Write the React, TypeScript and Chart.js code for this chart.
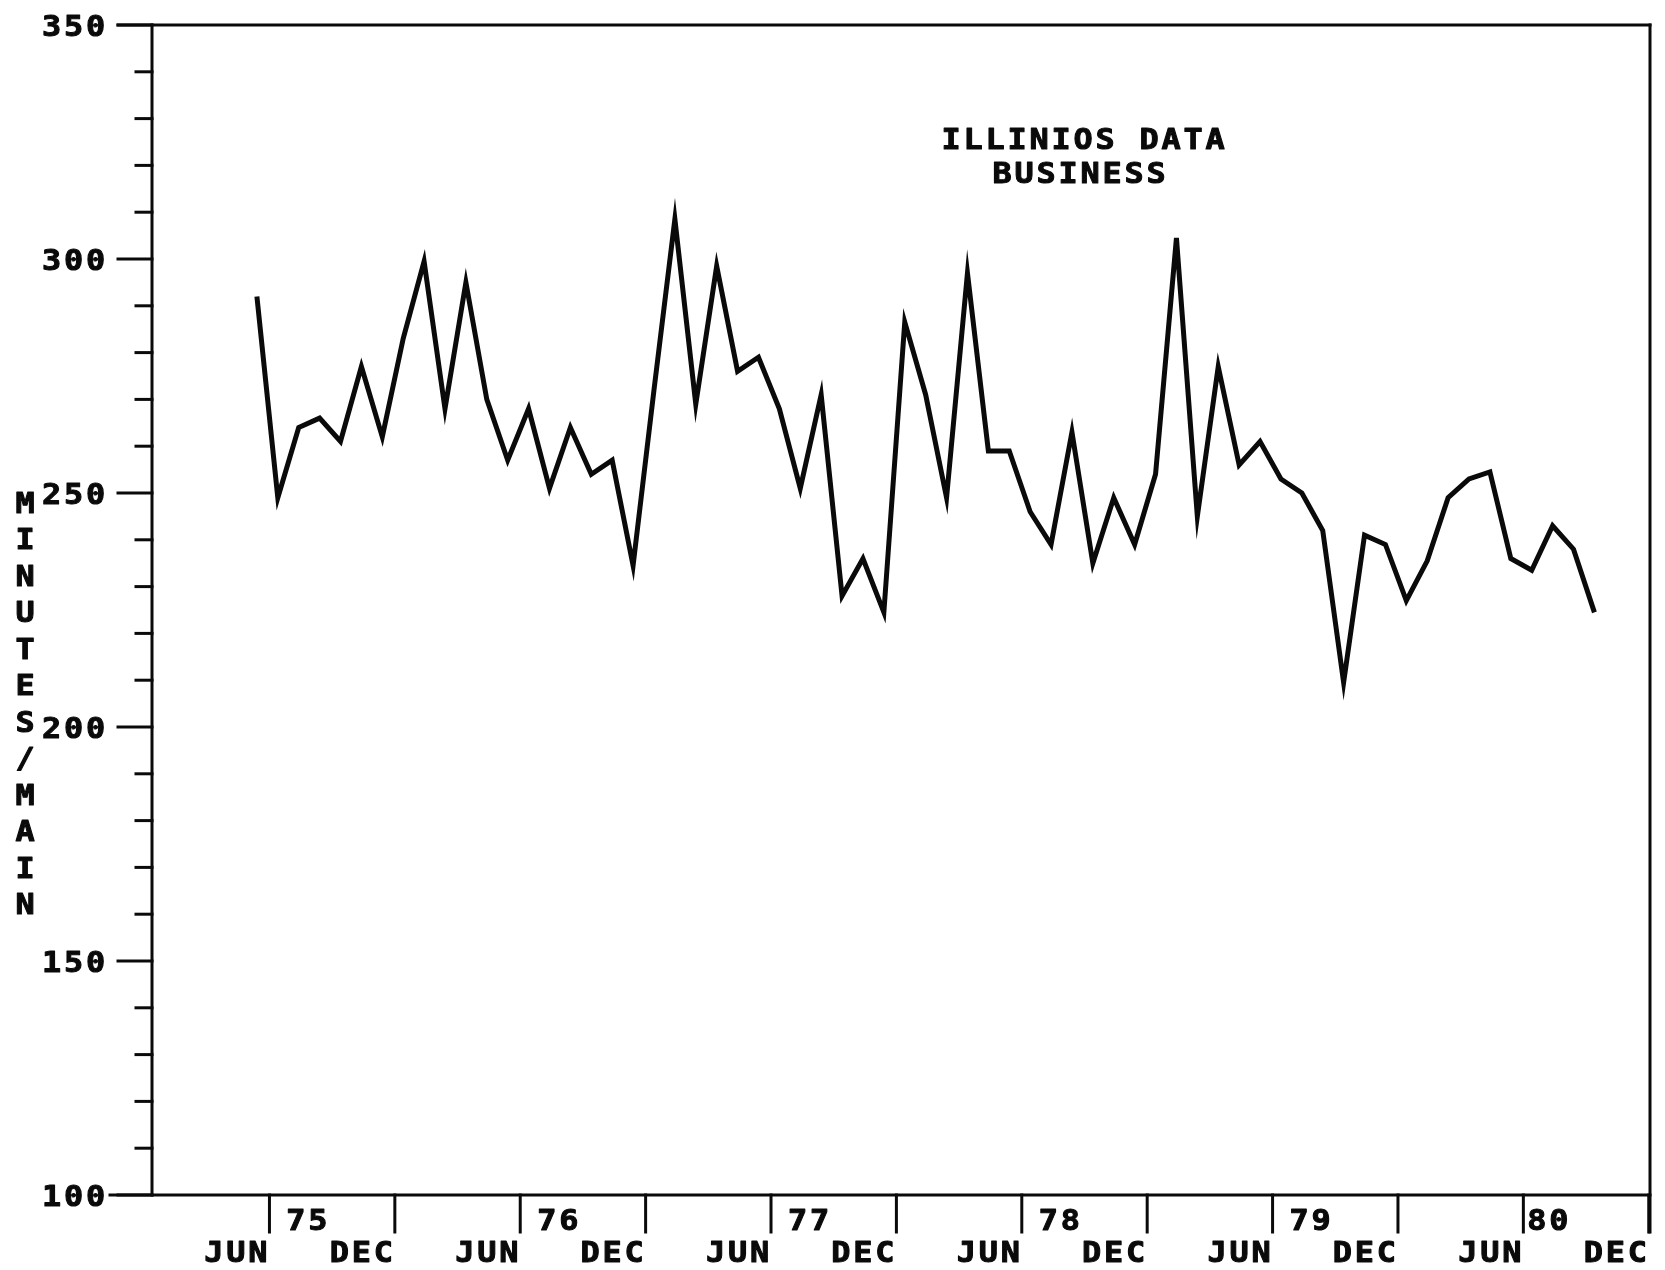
import { useEffect, useRef } from "react";
import { Chart, registerables } from "chart.js";

Chart.register(...registerables);

// Monthly minutes per main, first reading just before the JUN '75 mark
const minutesPerMain: number[] = [
  292, 249, 264, 266, 261, 277, 262, 283, 299.5, 268, 295, 270,
  257, 268, 251, 264, 254, 257, 234.5, 272, 308.5, 269, 298.5, 276,
  279, 268, 251, 271, 228, 236, 224.5, 286.5, 271, 249, 297, 259,
  259, 246, 239, 263, 235, 249, 239, 254, 304.5, 245, 277, 256,
  261, 253, 250, 242, 209.5, 241, 239, 227, 235.5, 249, 253, 254.5,
  236, 233.5, 243, 238, 224.5,
];

// Half-year marks along the time axis (every 6 months from JUN '75)
const monthTickLabels = [
  "JUN", "DEC", "JUN", "DEC", "JUN", "DEC",
  "JUN", "DEC", "JUN", "DEC", "JUN", "DEC",
];
const yearLabels = ["75", "76", "77", "78", "79", "80"];
const yMajorTicks = [100, 150, 200, 250, 300, 350];
const titleLines = ["ILLINIOS DATA", "BUSINESS"];
const yAxisTitle = "MINUTES/MAIN";

const INK = "#0a0a0a";
const FONT = 'bold 29px "DejaVu Sans Mono"';
const SERIES_OFFSET = -0.6; // readings sit just left of each month mark

// Plotter-style monospaced text: fixed advance, slightly widened, heavy pen
function plotText(
  ctx: CanvasRenderingContext2D,
  text: string,
  x: number,
  cy: number,
  align: "left" | "right" | "center",
  adv = 22,
) {
  const gw = 17;
  const n = text.length;
  const w = (n - 1) * adv + gw;
  const left = align === "left" ? x : align === "right" ? x - w : x - w / 2;
  ctx.textAlign = "center";
  ctx.textBaseline = "alphabetic";
  ctx.lineWidth = 1;
  ctx.lineJoin = "round";
  for (let i = 0; i < n; i++) {
    ctx.save();
    ctx.translate(left + gw / 2 + i * adv, cy + 10.5);
    ctx.scale(1.1, 1);
    ctx.fillText(text[i], 0, 0);
    ctx.strokeText(text[i], 0, 0);
    ctx.restore();
  }
}

const plotterAxes = {
  id: "plotterAxes",
  beforeDraw(chart: any) {
    const { ctx, width, height } = chart;
    ctx.save();
    ctx.fillStyle = "#fff";
    ctx.fillRect(0, 0, width, height);
    ctx.restore();
  },
  afterDraw(chart: any) {
    const { ctx, chartArea: a, scales } = chart;
    const xs = scales.x;
    const ys = scales.y;
    const seg = (x1: number, y1: number, x2: number, y2: number) => {
      ctx.lineWidth = 3;
      ctx.lineCap = "square";
      ctx.beginPath();
      ctx.moveTo(x1, y1);
      ctx.lineTo(x2, y2);
      ctx.stroke();
    };
    ctx.save();
    ctx.strokeStyle = INK;
    ctx.fillStyle = INK;
    ctx.font = FONT;

    // frame
    seg(a.left - 34, a.top, a.right, a.top);
    seg(a.left, a.top, a.left, a.bottom);
    seg(a.left - 42, a.bottom, a.right, a.bottom);
    seg(a.right, a.top, a.right, a.bottom + 37);

    // value axis: minor ticks every 10, labelled major ticks every 50
    for (let v = ys.min; v <= ys.max; v += 10) {
      const y = ys.getPixelForValue(v);
      const major = yMajorTicks.includes(v);
      seg(a.left - (major ? 34 : 16), y, a.left, y);
    }
    yMajorTicks.forEach((v) => {
      plotText(ctx, String(v), a.left - 48, ys.getPixelForValue(v), "right");
    });

    // time axis: half-year marks, month names and year labels
    monthTickLabels.forEach((lab, k) => {
      const x = xs.getPixelForValue(k * 6);
      seg(x, a.bottom, x, a.bottom + 37);
      plotText(ctx, lab, x - 3, a.bottom + 56, "right");
    });
    yearLabels.forEach((lab, k) => {
      const x = xs.getPixelForValue(k * 12);
      const nudge = k === yearLabels.length - 1 ? 5 : 18;
      plotText(ctx, lab, x + nudge, a.bottom + 24, "left");
    });

    // vertical stacked axis title
    for (let i = 0; i < yAxisTitle.length; i++) {
      plotText(ctx, yAxisTitle[i], 25, 502 + i * 36.5, "center");
    }

    // title block
    plotText(ctx, titleLines[0], 1083, 138, "center");
    plotText(ctx, titleLines[1], 1079, 172, "center");
    ctx.restore();
  },
};

export default function App() {
  const ref = useRef<HTMLCanvasElement>(null);

  useEffect(() => {
    const points = minutesPerMain.map((v, i) => ({ x: i + SERIES_OFFSET, y: v }));
    const chart = new Chart(ref.current!, {
      type: "line",
      data: {
        datasets: [
          {
            data: points,
            borderColor: INK,
            borderWidth: 5,
            borderJoinStyle: "miter",
            borderCapStyle: "butt",
            pointRadius: 0,
            tension: 0,
            fill: false,
          },
        ],
      },
      options: {
        animation: false,
        responsive: false,
        devicePixelRatio: 1,
        layout: { padding: { left: 152, top: 25, right: 15, bottom: 75 } },
        scales: {
          x: { type: "linear", min: -5.62, max: 66.06, display: false },
          y: { type: "linear", min: 100, max: 350, display: false },
        },
        plugins: {
          legend: { display: false },
          tooltip: { enabled: false },
        },
      },
      plugins: [plotterAxes],
    });
    return () => chart.destroy();
  }, []);

  return (
    <div style={{ position: "fixed", left: 0, top: 0, width: 1665, height: 1270, background: "#fff" }}>
      <canvas ref={ref} width={1665} height={1270} style={{ display: "block", width: 1665, height: 1270 }} />
    </div>
  );
}
